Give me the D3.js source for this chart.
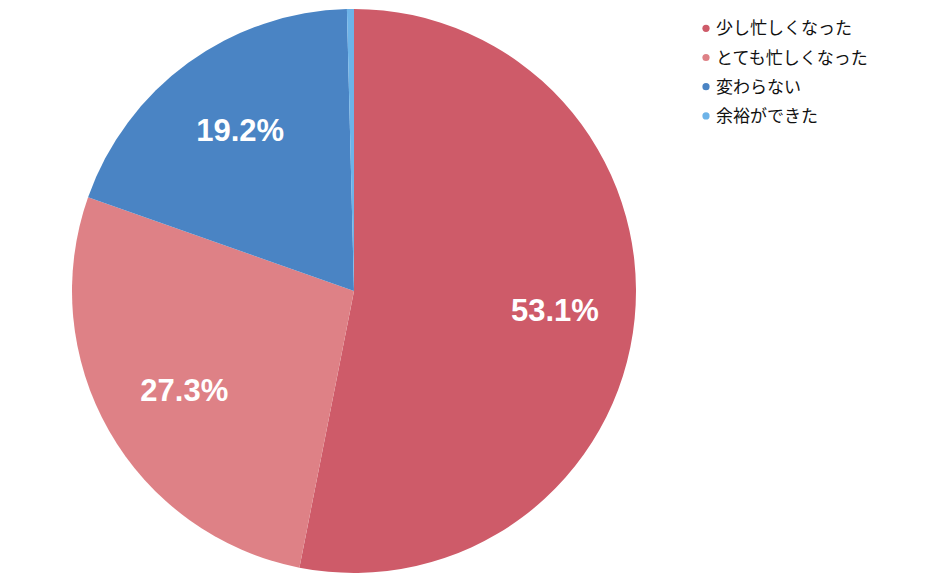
<!DOCTYPE html>
<html><head><meta charset="utf-8">
<script src="https://cdn.jsdelivr.net/npm/d3@7"></script>
<style>body{margin:0;background:#fff}svg{display:block}</style>
</head><body>
<svg id="chart" width="940" height="578"></svg>
<script>
const categories = ["少し忙しくなった", "とても忙しくなった", "変わらない", "余裕ができた"];
const values = [53.1, 27.3, 19.2, 0.4];
const labels = ["53.1%", "27.3%", "19.2%", ""];
const colors = ["#CE5B69", "#DE8186", "#4A84C4", "#6DB3E8"];

const svg = d3.select("#chart");
const cx = 354, cy = 291, r = 282;
const g = svg.append("g").attr("transform", `translate(${cx},${cy})`);
const pie = d3.pie().sort(null).value(d => d);
const arcs = pie(values);
const arc = d3.arc().innerRadius(0).outerRadius(r);
g.selectAll("path").data(arcs).join("path")
  .attr("d", arc).attr("fill", (d, i) => colors[i]);
const lab = d3.arc().innerRadius(r * 0.705).outerRadius(r * 0.705);
g.selectAll("text").data(arcs).join("text")
  .attr("x", d => lab.centroid(d)[0] + 3)
  .attr("y", d => lab.centroid(d)[1] + 11)
  .attr("text-anchor", "middle")
  .attr("font-family", "'Liberation Sans', Arial, sans-serif")
  .attr("font-weight", "bold").attr("font-size", 31)
  .attr("fill", "#fff")
  .text((d, i) => labels[i]);

const leg = svg.append("g");
categories.forEach((c, i) => {
  const y = 28.3 + i * 29.2;
  leg.append("circle").attr("cx", 706).attr("cy", y).attr("r", 3.6).attr("fill", colors[i]);
  leg.append("text").attr("x", 716).attr("y", y + 6)
    .attr("font-family", "'Noto Sans CJK JP', sans-serif").attr("font-size", 17)
    .attr("fill", "#111").text(c);
});
</script>
</body></html>
